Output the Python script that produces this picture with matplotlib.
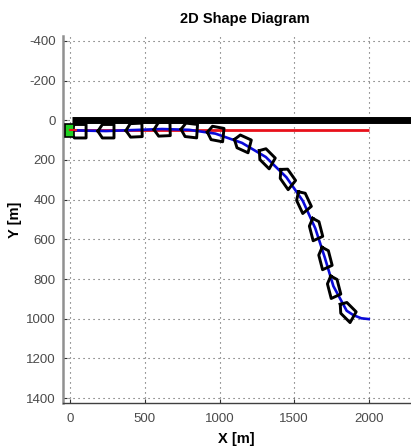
import numpy as np
import matplotlib
matplotlib.use("Agg")
import matplotlib.pyplot as plt

plt.rcParams["font.family"] = ["Liberation Sans", "DejaVu Sans"]
plt.rcParams["axes.unicode_minus"] = False

# track
path_x = [0, 100, 239, 427, 615, 796, 972, 1151, 1310, 1448, 1558, 1642, 1705, 1763, 1852, 1897, 1950, 2000]
path_y = [50, 52, 54, 49, 44, 48, 67, 114, 185, 287, 406, 545, 691, 836, 960, 982, 998, 1002]
ref_x = [0, 2000]
ref_y = [50, 50]
wall_x = [12, 2300]
wall_y = [0, 0]

# ship outlines, blunt stern ahead as in the picture
ship_x = [52, 239, 427, 615, 796, 972, 1151, 1310, 1448, 1558, 1642, 1705, 1763, 1852]
ship_y = [55, 55, 50, 45, 50, 67, 114, 185, 287, 406, 545, 691, 836, 960]
ship_psi = [0, 0, -2, -2, 5, 8, 19, 37, 47, 58, 71, 71, 71, 37]
hull_x = [-54, -24, 54, 54, -24, -54]
hull_y = [0, -34, -34, 34, 34, 0]

xticks = [0, 500, 1000, 1500, 2000]
yticks = [-400, -200, 0, 200, 400, 600, 800, 1000, 1200, 1400]

fig = plt.figure(figsize=(4.11, 4.46), dpi=100)
ax = fig.add_axes([62.5/411, 43/446, (411-62.5)/411, 367/446])

ax.plot(wall_x, wall_y, color="k", lw=5, solid_capstyle="butt", zorder=3)
ax.plot(ref_x, ref_y, color="#e8101a", lw=2, zorder=3, solid_capstyle="butt")
ax.plot(path_x, path_y, color="#0a0ad8", lw=1.9, zorder=4)

hx = np.array(hull_x)
hy = np.array(hull_y)
for x0, y0, psi in zip(ship_x, ship_y, ship_psi):
	c, s = np.cos(np.radians(psi)), np.sin(np.radians(psi))
	ax.plot(x0 + c*hx - s*hy, y0 + s*hx + c*hy, color="k", lw=2.1, zorder=5, solid_joinstyle="round")

# start marker
ax.fill([-33, 25, 25, -33, -33], [20, 20, 85, 85, 20], fc="#20d020", ec="k", lw=1.2, zorder=6, clip_on=False)
ax.plot([-5, 40], [50, 50], color="#e8101a", lw=1.5, zorder=7)

ax.set_xlim(-52, 2283)
ax.set_ylim(1425, -425)
ax.set_xticks(xticks)
ax.set_yticks(yticks)
ax.grid(True, ls=(0, (1, 3.5)), color="#555555", lw=0.8)
ax.set_axisbelow(True)
ax.tick_params(direction="in", length=3, width=0.8, labelsize=9.5, labelcolor="#4a4a4a", color="#303030", pad=5)
ax.tick_params(axis="x", pad=7)

ax.spines["top"].set_visible(False)
ax.spines["right"].set_visible(False)
ax.spines["left"].set_color("#909090")
ax.spines["left"].set_linewidth(1.8)
ax.spines["bottom"].set_color("#404040")
ax.spines["bottom"].set_linewidth(1)

ax.set_xlabel("X [m]", fontweight="bold", fontsize=10.5, labelpad=5)
ax.set_ylabel("Y [m]", fontweight="bold", fontsize=10.5)
ax.yaxis.set_label_coords(-0.116, 0.5)
ax.set_title("2D Shape Diagram", fontweight="bold", fontsize=10.5, x=0.523, pad=9)

fig.savefig("out.png", dpi=100)
